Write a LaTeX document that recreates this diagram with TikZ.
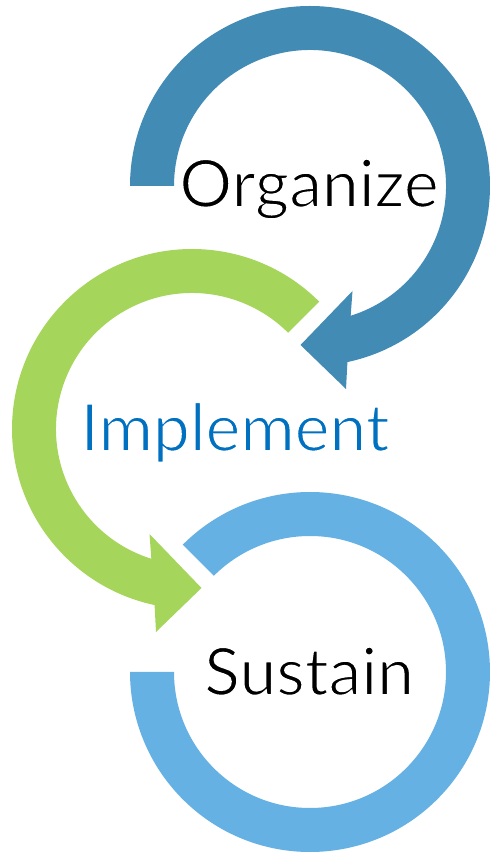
\documentclass[tikz,border=0pt]{standalone}
\usepackage{fontspec}
\setmainfont{Lato}
\definecolor{orgblue}{HTML}{428BB4}
\definecolor{impgreen}{HTML}{A5D65B}
\definecolor{susblue}{HTML}{65B1E3}
\definecolor{imptext}{HTML}{0070C0}
\newcommand\thintext[1]{\special{pdf:literal direct 2 Tr 1 G 1.6 w}#1\special{pdf:literal direct 0 Tr}}
\begin{document}
\begin{tikzpicture}[x=1pt,y=1pt,
  lbl/.style={anchor=base,inner sep=0pt,font=\fontsize{66}{70}\selectfont}]
\useasboundingbox (0,0) rectangle (490,852);
% top: Organize (clockwise arrow)
\begin{scope}[shift={(310,666)}]
\fill[orgblue] (180:180) arc[start angle=180,end angle=-78,radius=180]
  -- (36,-203) -- (-9.5,-159) -- (42.5,-105) -- (-72.6:136)
  arc[start angle=-72.6,end angle=180,radius=136] -- cycle;
\end{scope}
% middle: Implement (counterclockwise arrow)
\begin{scope}[shift={(192,423)}]
\fill[impgreen] (45:180) arc[start angle=45,end angle=258,radius=180]
  -- (-36,-203) -- (9.5,-159) -- (-42.5,-105) -- (252.6:136)
  arc[start angle=252.6,end angle=45,radius=136] -- cycle;
\end{scope}
% bottom: Sustain (open ring)
\begin{scope}[shift={(310,180)}]
\fill[susblue] (135:180) arc[start angle=135,end angle=-180,radius=180]
  -- (-180:136) arc[start angle=-180,end angle=135,radius=136] -- cycle;
\end{scope}
\node[lbl] (org) at (309,645) {\thintext{Organize}};
\node[lbl,text=imptext] (imp) at (235,401) {\thintext{Implement}};
\node[lbl] (sus) at (309,157) {\thintext{Sustain}};
\end{tikzpicture}
\end{document}
